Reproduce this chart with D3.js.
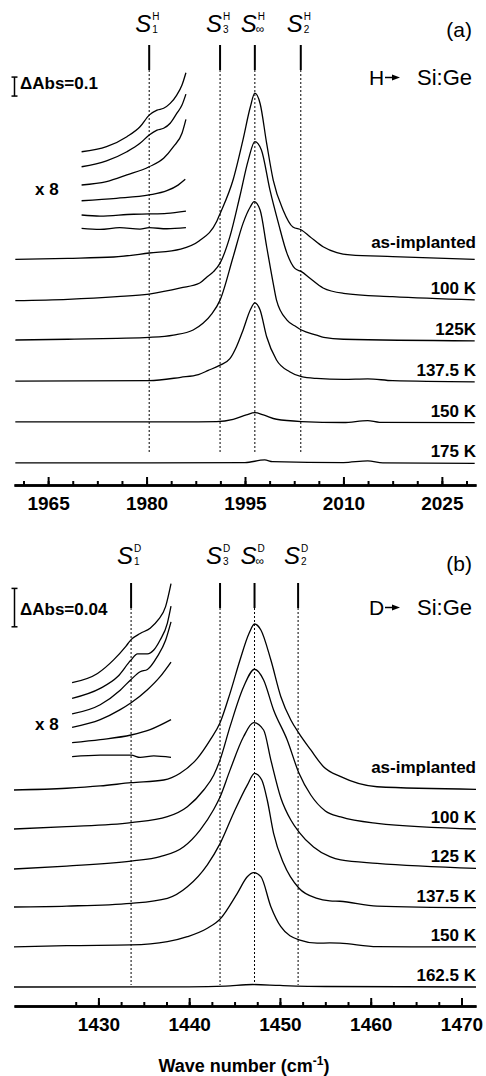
<!DOCTYPE html>
<html>
<head>
<meta charset="utf-8">
<script src="https://cdn.jsdelivr.net/npm/d3@7"></script>
<style>
  body { margin: 0; background: #fff; }
  svg { display: block; font-family: "Liberation Sans", Arial, sans-serif; }
</style>
</head>
<body>
<div id="chart"></div>
<script>
// IR absorbance spectra of H / D implanted Si:Ge after annealing steps
// values: [wave number (cm-1), absorbance]; traces are stacked by an offset

// ---- panel (a): H -> Si:Ge ----
const labelsA = ["as-implanted", "100 K", "125K", "137.5 K", "150 K", "175 K"];
const offsetsA = [1.188, 0.970, 0.763, 0.547, 0.332, 0.116];

const hAsImpl = [[1960,0],[1968,0.005],[1975,0.012],[1980.4,0.033],[1985.2,0.054],[1988,0.096],[1990.7,0.2],[1991.2,0.24],[1993.2,0.42],[1994.7,0.63],[1995.8,0.80],[1996.5,0.874],[1997.3,0.82],[1998.3,0.61],[1999.3,0.417],[2000.8,0.26],[2002.3,0.17],[2003.6,0.154],[2004.9,0.119],[2006.9,0.066],[2009,0.035],[2011,0.023],[2017.5,0.014],[2030,0]];
const h100 = [[1960,0],[1968,0.007],[1975.5,0.021],[1980.4,0.035],[1985.2,0.067],[1988.1,0.093],[1989.2,0.125],[1990.2,0.153],[1991.2,0.198],[1992.7,0.337],[1994.2,0.547],[1995.5,0.74],[1996.5,0.837],[1997.5,0.793],[1998.8,0.583],[2000.1,0.407],[2001.4,0.249],[2002.6,0.17],[2003.6,0.153],[2004.9,0.118],[2006.9,0.067],[2010,0.039],[2017.5,0.021],[2030,0.004]];
const h125 = [[1960,0],[1968,0.004],[1975.5,0.009],[1980.4,0.014],[1984.1,0.026],[1987.1,0.053],[1988.6,0.088],[1990,0.14],[1991.2,0.21],[1993.2,0.438],[1994.7,0.614],[1995.8,0.70],[1996.4,0.728],[1997.3,0.684],[1998.3,0.491],[1999.3,0.298],[1999.8,0.21],[2001.4,0.105],[2002.8,0.07],[2003.6,0.053],[2005.9,0.026],[2007,0.014],[2010,0.004],[2030,-0.004]];
const h1375 = [[1960,0],[1980.4,0.002],[1985.2,0.02],[1987.9,0.034],[1989.4,0.056],[1991.2,0.084],[1992.7,0.118],[1993.7,0.181],[1994.7,0.268],[1995.8,0.374],[1996.5,0.412],[1997.3,0.374],[1998.3,0.233],[1999.8,0.111],[2001.8,0.049],[2003.6,0.023],[2005.9,0.014],[2010,0.009],[2013.7,0.012],[2017.5,0.002],[2030,-0.004]];
const h150 = [[1960,0],[1985,0],[1990.7,0.002],[1993.2,0.014],[1995.2,0.037],[1996.5,0.049],[1997.8,0.037],[1999.8,0.014],[2003.6,0.002],[2010,-0.003],[2013.7,0.007],[2015.5,-0.002],[2030,-0.004]];
const h175 = [[1960,0],[1995,0.002],[1998,0.016],[1999.2,0.007],[2010,0.002],[2013.7,0.011],[2016,0],[2030,-0.002]];
const spectraA = [hAsImpl, h100, h125, h1375, h150, h175];

// x 8 magnified insets (raw absorbance)
const insetOffsetsA = [1.754, 1.675, 1.579, 1.496, 1.421, 1.351];
const inA1 = [[1970.1,0],[1973.9,0.0033],[1977,0.0099],[1979,0.0164],[1980.4,0.0241],[1981.6,0.0274],[1982.6,0.0286],[1983.6,0.0318],[1984.6,0.0373],[1985.4,0.0439],[1986,0.052]];
const inA2 = [[1970.1,0],[1973.9,0.0039],[1977,0.0099],[1979,0.0154],[1980.4,0.0209],[1981.6,0.0241],[1982.6,0.0253],[1983.6,0.0286],[1984.6,0.0351],[1985.4,0.0406],[1986,0.0478]];
const inA3 = [[1970.1,0],[1973.9,0.0022],[1977,0.0066],[1980.4,0.012],[1982.6,0.0176],[1984.1,0.0252],[1985.4,0.034],[1986,0.0432]];
const inA4 = [[1970.1,0],[1975.4,0.0016],[1980.4,0.0038],[1983.1,0.0066],[1984.8,0.0103],[1985.9,0.0141]];
const inA5 = [[1970.1,0],[1972.9,-0.0007],[1978,0.0005],[1980.4,0.0007],[1983.1,0.0011],[1986,0.0026]];
const inA6 = [[1970.1,0],[1972.9,-0.0007],[1975.9,0.0004],[1979,-0.0005],[1980.4,0.0004],[1983.1,-0.0003],[1986,0.0004]];
const insetsA = [inA1, inA2, inA3, inA4, inA5, inA6];

const sitesA = [1980.4, 1991.2, 1996.5, 2003.5];
const siteSubs = ["1", "3", "\u221e", "2"];
const ticksA = [1965, 1980, 1995, 2010, 2025];

// ---- panel (b): D -> Si:Ge ----
const labelsB = ["as-implanted", "100 K", "125 K", "137.5 K", "150 K", "162.5 K"];
const offsetsB = [0.225, 0.1844, 0.1427, 0.1031, 0.0615, 0.0198];

const dAsImpl = [[1420.7,0],[1426.5,0.0018],[1430.2,0.0042],[1433.6,0.0076],[1437.2,0.0104],[1439,0.0174],[1440.9,0.033],[1442.3,0.052],[1443.4,0.07],[1444.5,0.1007],[1445.6,0.1354],[1446.6,0.1632],[1447.2,0.1729],[1447.9,0.1667],[1449,0.1354],[1450.1,0.0972],[1451.2,0.0729],[1452.1,0.059],[1453.4,0.0417],[1454.8,0.0243],[1456.7,0.0139],[1460.7,0.0034],[1471.6,0.0007]];
const d100 = [[1420.7,0],[1426.5,0.0024],[1433.6,0.0066],[1437.6,0.0128],[1439.8,0.0232],[1441.6,0.0406],[1442.7,0.056],[1443.4,0.072],[1444.5,0.1066],[1446,0.1482],[1447.2,0.1664],[1448.2,0.1552],[1449.3,0.124],[1450.8,0.0927],[1452.1,0.058],[1453.4,0.0354],[1455,0.0188],[1456.7,0.0125],[1460.7,0.0059],[1471.6,0]];
const d125 = [[1420.7,0],[1426.5,0.0031],[1433.6,0.0083],[1436.8,0.0128],[1439.4,0.0232],[1441.2,0.0406],[1442.7,0.062],[1443.4,0.075],[1444.5,0.103],[1446,0.138],[1447.1,0.1524],[1448.2,0.1448],[1449,0.1135],[1450.1,0.074],[1451.2,0.051],[1452.1,0.0385],[1453.7,0.0229],[1455.5,0.0128],[1456.7,0.0094],[1460.7,0.0059],[1471.6,0.0007]];
const d1375 = [[1420.7,0],[1426.5,0.001],[1433.6,0.0039],[1437.6,0.0091],[1439.8,0.0211],[1442,0.044],[1443.4,0.066],[1444.9,0.098],[1446.4,0.127],[1447.2,0.1393],[1448,0.1323],[1448.6,0.1115],[1449.3,0.0768],[1450.4,0.0455],[1452.1,0.0195],[1454.1,0.009],[1455.5,0.0065],[1456.6,0.006],[1460.7,0.001],[1471.6,-0.0007]];
const d150 = [[1420.7,0],[1426.5,0.0014],[1433.6,0.0021],[1437.6,0.0055],[1439.8,0.0107],[1442,0.0195],[1443.4,0.029],[1445.3,0.0559],[1446.4,0.0732],[1447.1,0.0774],[1447.9,0.0732],[1449,0.042],[1450.1,0.0211],[1452.1,0.0073],[1454.1,0.0039],[1455.5,0.0042],[1456.6,0.0039],[1460.7,0.0003],[1471.6,0]];
const d1625 = [[1420.7,0],[1440,0.0002],[1444,0.001],[1447,0.0026],[1450,0.0016],[1455,0.0005],[1471.6,0]];
const spectraB = [dAsImpl, d100, d125, d1375, d150, d1625];

const insetOffsetsB = [0.3368, 0.3205, 0.3042, 0.2903, 0.2743, 0.2597];
const inB1 = [[1427.1,0],[1429.9,0.0012],[1431.7,0.003],[1433,0.0047],[1433.6,0.0056],[1434.6,0.0064],[1435.7,0.0071],[1436.6,0.0082],[1437.4,0.0099],[1438,0.0129]];
const inB2 = [[1427.1,0],[1430.2,0.0013],[1432.1,0.0028],[1433.6,0.005],[1434.3,0.0058],[1435.4,0.0058],[1436.1,0.0063],[1436.8,0.0076],[1437.6,0.0098],[1438,0.012]];
const inB3 = [[1427.1,0],[1430.2,0.0012],[1432.4,0.0031],[1433.6,0.0045],[1434.6,0.0055],[1435.4,0.0058],[1436.5,0.0075],[1437.4,0.0096],[1438,0.012]];
const inB4 = [[1427.1,0],[1430.2,0.001],[1432.4,0.0023],[1433.6,0.0032],[1435.4,0.0049],[1436.8,0.0066],[1438,0.0085]];
const inB5 = [[1427.1,0],[1430.2,0.0004],[1433.6,0.001],[1435.7,0.0017],[1438,0.003]];
const inB6 = [[1427.1,0],[1430.2,0.0002],[1432.4,0.0002],[1433.6,0.0002],[1434.6,-0.0001],[1436.1,0.0001],[1438,-0.0001]];
const insetsB = [inB1, inB2, inB3, inB4, inB5, inB6];

const sitesB = [1433.6, 1443.4, 1447.2, 1452.0];
const ticksB = [1430, 1440, 1450, 1460, 1470];

const INSET_GAIN = 8;

// panel settings (layout in px)
const panels = [
    {
        tag: "(a)", isotope: "H", xDomain: [1959.8, 2030.2], ticks: ticksA, minorStep: 3.75,
        yMax: 2.5, axisY: 485, top: 10,
        spectra: spectraA, offsets: offsetsA, labels: labelsA,
        insets: insetsA, insetOffsets: insetOffsetsA, sites: sitesA,
        bar: [2.047, 0.1], barText: "\u0394Abs=0.1",
        sBase: 32, markTop: 45, markBot: 70, dotBot: 453,
        barTextY: 89, x8Y: 195, tagY: 37, reactY: 85, asGap: 11
    },
    {
        tag: "(b)", isotope: "D", xDomain: [1420.7, 1471.6], ticks: ticksB, minorStep: 2.5,
        yMax: 0.5, axisY: 1006, top: 526,
        spectra: spectraB, offsets: offsetsB, labels: labelsB,
        insets: insetsB, insetOffsets: insetOffsetsB, sites: sitesB,
        bar: [0.395, 0.04], barText: "\u0394Abs=0.04",
        sBase: 564, markTop: 583, markBot: 608, dotBot: 985,
        barTextY: 615, x8Y: 730, tagY: 571, reactY: 615, asGap: 16
    }
];

const width = 486, height = 1076;
const left = 14, right = 476;

const svg = d3.select('#chart')
    .append('svg')
    .attr('width', width)
    .attr('height', height);

svg.append('rect').attr('width', width).attr('height', height).attr('fill', '#fff');

panels.forEach(drawPanel);

// x-axis title (bottom panel only)
const title = svg.append('text')
    .attr('x', 244)
    .attr('y', 1072)
    .attr('text-anchor', 'middle')
    .attr('font-size', 18)
    .attr('font-weight', 'bold');
title.append('tspan').text('Wave number (cm');
title.append('tspan').attr('dy', -7).attr('font-size', 12).text('-1');
title.append('tspan').attr('dy', 7).text(')');

function drawPanel(p) {
    const g = svg.append('g');
    const x = d3.scaleLinear().domain(p.xDomain).range([left, right]);
    const y = d3.scaleLinear().domain([0, p.yMax]).range([p.axisY, p.top]);

    // site markers: solid stub + dotted guide
    p.sites.forEach((s, i) => {
        const cx = x(s);
        const inf = siteSubs[i] === '\u221e';
        g.append('line')
            .attr('x1', cx).attr('x2', cx)
            .attr('y1', p.markTop).attr('y2', p.markBot)
            .attr('stroke', '#000').attr('stroke-width', 2);
        g.append('line')
            .attr('x1', cx).attr('x2', cx)
            .attr('y1', p.markBot).attr('y2', p.dotBot)
            .attr('stroke', '#000').attr('stroke-width', 1)
            .attr('stroke-dasharray', '2,2');
        g.append('text')
            .attr('x', cx + 2).attr('y', p.sBase)
            .attr('text-anchor', 'end')
            .attr('font-size', 24).attr('font-style', 'italic')
            .text('S');
        g.append('text')
            .attr('x', cx + 3).attr('y', p.sBase - 12)
            .attr('font-size', 10)
            .text(p.isotope);
        g.append('text')
            .attr('x', inf ? cx + 1 : cx + 3).attr('y', p.sBase + 1)
            .attr('font-size', inf ? 12 : 10)
            .text(siteSubs[i]);
    });

    // spectra
    p.spectra.forEach((data, i) => {
        const off = p.offsets[i];
        const line = d3.line()
            .x(d => x(d[0]))
            .y(d => y(off + d[1]))
            .curve(d3.curveMonotoneX);
        g.append('path')
            .datum(data)
            .attr('d', line)
            .attr('fill', 'none')
            .attr('stroke', '#000')
            .attr('stroke-width', 1.3);

        const last = data[data.length - 1];
        const gap = i === 0 ? p.asGap : 6;
        g.append('text')
            .attr('x', right)
            .attr('y', y(off + last[1]) - gap)
            .attr('text-anchor', 'end')
            .attr('font-size', 17)
            .attr('font-weight', 'bold')
            .text(p.labels[i]);
    });

    // magnified insets
    p.insets.forEach((data, i) => {
        const off = p.insetOffsets[i];
        const line = d3.line()
            .x(d => x(d[0]))
            .y(d => y(off + d[1] * INSET_GAIN))
            .curve(d3.curveMonotoneX);
        g.append('path')
            .datum(data)
            .attr('d', line)
            .attr('fill', 'none')
            .attr('stroke', '#000')
            .attr('stroke-width', 1.3);
    });

    g.append('text')
        .attr('x', 35).attr('y', p.x8Y)
        .attr('font-size', 17).attr('font-weight', 'bold')
        .text('x 8');

    // scale bar
    const yb0 = y(p.bar[0]), yb1 = y(p.bar[0] + p.bar[1]);
    const bar = g.append('g').attr('stroke', '#000').attr('stroke-width', 1.5);
    bar.append('line').attr('x1', 14.5).attr('x2', 14.5).attr('y1', yb0).attr('y2', yb1);
    bar.append('line').attr('x1', 11.5).attr('x2', 17.5).attr('y1', yb0).attr('y2', yb0);
    bar.append('line').attr('x1', 11.5).attr('x2', 17.5).attr('y1', yb1).attr('y2', yb1);
    g.append('text')
        .attr('x', 20).attr('y', p.barTextY)
        .attr('font-size', 17).attr('font-weight', 'bold')
        .text(p.barText);

    // panel tag and reaction
    g.append('text')
        .attr('x', 472).attr('y', p.tagY)
        .attr('text-anchor', 'end')
        .attr('font-size', 21)
        .text(p.tag);
    g.append('text')
        .attr('x', 369).attr('y', p.reactY)
        .attr('font-size', 21)
        .text(p.isotope);
    const ay = p.reactY - 7.5;
    g.append('line')
        .attr('x1', 385).attr('x2', 394).attr('y1', ay).attr('y2', ay)
        .attr('stroke', '#000').attr('stroke-width', 1.5);
    g.append('path')
        .attr('d', `M392,${ay - 3}L400,${ay}L392,${ay + 3}Z`)
        .attr('fill', '#000');
    g.append('text')
        .attr('x', 472).attr('y', p.reactY)
        .attr('text-anchor', 'end')
        .attr('font-size', 22)
        .text('Si:Ge');

    // bottom axis: minor then major ticks, pointing inward
    const minor = d3.range(p.ticks[0] - p.minorStep, p.xDomain[1], p.minorStep)
        .filter(v => v >= p.xDomain[0]);
    const axisG = g.append('g').attr('transform', `translate(0,${p.axisY})`);
    axisG.append('g')
        .call(d3.axisBottom(x).tickValues(minor).tickSize(-4).tickSizeOuter(0).tickFormat(''));
    axisG.append('g')
        .call(d3.axisBottom(x).tickValues(p.ticks).tickSize(-8).tickSizeOuter(0).tickPadding(12)
            .tickFormat(d3.format('d')));
    axisG.selectAll('.domain').attr('stroke-width', 2.5);
    axisG.selectAll('.tick line').attr('stroke-width', 2);
    axisG.selectAll('.tick text')
        .attr('font-family', '"Liberation Sans", Arial, sans-serif')
        .attr('font-size', 19)
        .attr('font-weight', 'bold');
}
</script>
</body>
</html>
